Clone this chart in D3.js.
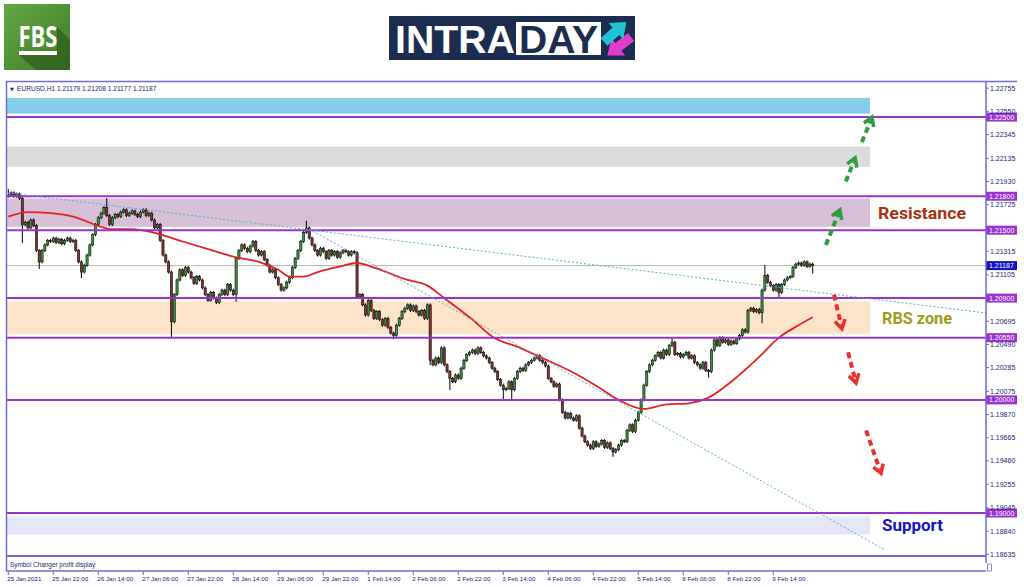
<!DOCTYPE html>
<html>
<head>
<meta charset="utf-8">
<script src="https://cdnjs.cloudflare.com/ajax/libs/d3/7.8.5/d3.min.js"></script>
<style>
    html, body { margin: 0; padding: 0; background: #fff; }
    svg { display: block; }
</style>
</head>
<body>
<svg id="chart" width="1024" height="587"></svg>
<script>
// EURUSD H1, closes, 16 bars per row (one row per time label)
let firstOpen = 1.2180;
let closes = [
    1.2181, 1.2183, 1.2180, 1.2182, 1.2178, 1.2155, 1.2157, 1.2152, 1.2159, 1.2154, 1.2132, 1.2122, 1.2132, 1.2137, 1.2141, 1.2140,
    1.2143, 1.2139, 1.2142, 1.2138, 1.2141, 1.2143, 1.2140, 1.2141, 1.2132, 1.2122, 1.2113, 1.2119, 1.2128, 1.2137, 1.2146, 1.2155,
    1.2161, 1.2165, 1.2170, 1.2163, 1.2155, 1.2161, 1.2164, 1.2162, 1.2166, 1.2168, 1.2163, 1.2165, 1.2167, 1.2164, 1.2162, 1.2166,
    1.2168, 1.2163, 1.2165, 1.2159, 1.2152, 1.2155, 1.2141, 1.2128, 1.2122, 1.2113, 1.2069, 1.2093, 1.2106, 1.2115, 1.2110, 1.2117,
    1.2113, 1.2108, 1.2103, 1.2109, 1.2106, 1.2099, 1.2093, 1.2088, 1.2095, 1.2090, 1.2086, 1.2093, 1.2097, 1.2093, 1.2102, 1.2097,
    1.2093, 1.2125, 1.2132, 1.2137, 1.2134, 1.2131, 1.2136, 1.2140, 1.2132, 1.2128, 1.2131, 1.2124, 1.2119, 1.2113, 1.2115, 1.2108,
    1.2102, 1.2097, 1.2099, 1.2104, 1.2108, 1.2117, 1.2125, 1.2132, 1.2140, 1.2148, 1.2152, 1.2143, 1.2137, 1.2132, 1.2128, 1.2134,
    1.2131, 1.2125, 1.2132, 1.2128, 1.2131, 1.2126, 1.2130, 1.2132, 1.2131, 1.2128, 1.2131, 1.2130, 1.2091, 1.2093, 1.2084, 1.2075,
    1.2088, 1.2079, 1.2072, 1.2078, 1.2071, 1.2066, 1.2072, 1.2064, 1.2059, 1.2057, 1.2066, 1.2072, 1.2078, 1.2081, 1.2084, 1.2079,
    1.2083, 1.2078, 1.2075, 1.2079, 1.2072, 1.2084, 1.2035, 1.2031, 1.2037, 1.2033, 1.2046, 1.2031, 1.2025, 1.2019, 1.2016, 1.2022,
    1.2019, 1.2028, 1.2035, 1.2040, 1.2042, 1.2044, 1.2041, 1.2046, 1.2042, 1.2039, 1.2037, 1.2033, 1.2028, 1.2025, 1.2018, 1.2013,
    1.2009, 1.2010, 1.2016, 1.2009, 1.2019, 1.2025, 1.2028, 1.2026, 1.2031, 1.2033, 1.2035, 1.2037, 1.2039, 1.2035, 1.2033, 1.2030,
    1.2019, 1.2016, 1.2012, 1.2014, 1.2000, 1.1989, 1.1984, 1.1988, 1.1984, 1.1982, 1.1986, 1.1975, 1.1968, 1.1963, 1.1960, 1.1957,
    1.1963, 1.1959, 1.1961, 1.1964, 1.1958, 1.1962, 1.1957, 1.1954, 1.1956, 1.1960, 1.1964, 1.1963, 1.1973, 1.1978, 1.1972, 1.1982,
    1.1989, 1.2000, 1.2013, 1.2025, 1.2031, 1.2035, 1.2039, 1.2042, 1.2037, 1.2044, 1.2040, 1.2048, 1.2051, 1.2040, 1.2041, 1.2038,
    1.2040, 1.2042, 1.2037, 1.2039, 1.2033, 1.2031, 1.2028, 1.2033, 1.2026, 1.2025, 1.2044, 1.2053, 1.2048, 1.2055, 1.2051, 1.2053,
    1.2049, 1.2052, 1.2050, 1.2054, 1.2057, 1.2062, 1.2060, 1.2079, 1.2081, 1.2078, 1.2080, 1.2077, 1.2097, 1.2110, 1.2104, 1.2101,
    1.2097, 1.2102, 1.2095, 1.2102, 1.2106, 1.2108, 1.2109, 1.2117, 1.2120, 1.2121, 1.2119, 1.2122, 1.2118, 1.2120, 1.21187
];
// long wicks that stand out: [bar, price]
let wickHighs = [[0, 1.2185], [35, 1.2177], [106, 1.2157], [236, 1.2054], [269, 1.2118]];
let wickLows = [[5, 1.2140], [11, 1.2117], [26, 1.2109], [58, 1.2057], [81, 1.2088], [137, 1.2055], [150, 1.2032],
    [157, 1.2010], [176, 1.2002], [179, 1.2002], [215, 1.1951], [249, 1.2021], [268, 1.2069], [274, 1.2091], [286, 1.2113]];

// red moving average: [bar, price]
let maPoints = [[0, 1.2162], [7, 1.2166], [15, 1.2165], [23, 1.2162], [33, 1.2153], [36, 1.2151], [44, 1.2151], [53, 1.2147],
    [62, 1.2140], [74, 1.2131], [81, 1.2126], [89, 1.2122], [96, 1.2115], [100, 1.2109], [105, 1.2109], [110, 1.2113],
    [118, 1.2118], [124, 1.2121], [130, 1.2117], [142, 1.2106], [149, 1.2101], [155, 1.2090], [165, 1.2071], [172, 1.2056],
    [182, 1.2046], [189, 1.2038], [201, 1.2024], [210, 1.2011], [217, 1.2000], [226, 1.1992], [234, 1.1996], [242, 1.1997],
    [249, 1.2002], [258, 1.2018], [267, 1.2038], [274, 1.2055], [281, 1.2066], [286, 1.2073]];

// levels and zones
let levels = [1.22500, 1.21800, 1.21500, 1.20900, 1.20550, 1.20000, 1.19000];
let lastPrice = 1.21187;
let zones = [[1.2267, 1.2253], [1.2224, 1.2206], [1.2178, 1.2153], [1.2087, 1.2058], [1.1897, 1.1881]];
let zoneEndBar = 306.4;
let zoneLabels = [[2, "Resistance"], [3, "RBS zone"], [4, "Support"]];
let trendLines = [[[0, 1.2183], [347, 1.2077]], [[107, 1.2151], [312, 1.1867]]];
let upArrows = [[[290.7, 1.2137], [295.7, 1.2168]], [[297.8, 1.2193], [301.1, 1.2214]], [[303.5, 1.2228], [307.1, 1.2250]]];
let downArrows = [[[293.6, 1.2093], [296.4, 1.2063]], [[298.6, 1.2042], [301.4, 1.2015]], [[305, 1.1973], [310.3, 1.1935]]];

// axis labels (the ones hidden under the level tags are left out)
let priceTicks = [1.22755, 1.22550, 1.22345, 1.22135, 1.21930, 1.21725, 1.21315, 1.21105, 1.20695,
    1.20490, 1.20285, 1.20075, 1.19870, 1.19665, 1.19460, 1.19255, 1.19045, 1.18840, 1.18635];
let timeLabels = ["25 Jan 2021", "25 Jan 22:00", "26 Jan 14:00", "27 Jan 06:00", "27 Jan 22:00", "28 Jan 14:00",
    "29 Jan 06:00", "29 Jan 22:00", "1 Feb 14:00", "2 Feb 06:00", "2 Feb 22:00", "3 Feb 14:00", "4 Feb 06:00",
    "4 Feb 22:00", "5 Feb 14:00", "8 Feb 06:00", "8 Feb 22:00", "9 Feb 14:00"];
let barsPerLabel = 16;
let headerText = "EURUSD,H1  1.21179 1.21208 1.21177 1.21187";

let svg = d3.select("#chart");
let frameColor = "#6c6cd4";
let axisText = "#24247a";
let levelColor = "#9933cc";
let zoneColors = ["#87ceeb", "#dcdcdc", "#d8bfd8", "#fde3c8", "#e6e6fa"];
let labelColors = ["#a8330f", "#9c9c18", "#1414c8"];

let plotLeft = 6, plotRight = 986, plotTop = 82, plotBottom = 556;
let x = d3.scaleLinear().domain([0, 348]).range([8.3, 8.3 + 348 * 2.8125]);
let y = d3.scaleLinear().domain([1.18620, 1.22810]).range([plotBottom, plotTop]);

/**
 * 页眉: FBS 和 INTRADAY 标志
 */
function drawHeader() {
    let defs = svg.append("defs");
    let grad = defs.append("linearGradient").attr("id", "fbsGrad")
        .attr("x1", 0).attr("y1", 0).attr("x2", 1).attr("y2", 1);
    grad.append("stop").attr("offset", "0%").attr("stop-color", "#64a844");
    grad.append("stop").attr("offset", "100%").attr("stop-color", "#3f7b28");

    let fbs = svg.append("g");
    fbs.append("rect").attr("x", 4).attr("y", 4).attr("width", 66).attr("height", 66).attr("fill", "url(#fbsGrad)");
    fbs.append("path").attr("d", "M57,27 L70,40 L70,70 L36,70 L19,55 L57,55 Z").attr("fill", "#2f5f1d").attr("opacity", 0.75);
    fbs.append("text").attr("x", 38).attr("y", 47).attr("text-anchor", "middle")
        .attr("font-family", "Open Sans").attr("font-weight", 700).attr("font-size", 29)
        .attr("textLength", 39).attr("lengthAdjust", "spacingAndGlyphs")
        .attr("fill", "#fff").text("FBS");
    fbs.append("rect").attr("x", 19).attr("y", 51).attr("width", 38).attr("height", 4).attr("fill", "#fff");

    let intra = svg.append("g");
    intra.append("rect").attr("x", 389).attr("y", 16).attr("width", 246).attr("height", 44).attr("fill", "#1c2d50");
    intra.append("text").attr("x", 395).attr("y", 53)
        .attr("font-family", "Liberation Sans").attr("font-weight", 700).attr("font-size", 38)
        .attr("textLength", 120).attr("lengthAdjust", "spacingAndGlyphs")
        .attr("fill", "#fff").text("INTRA");
    intra.append("rect").attr("x", 516).attr("y", 22).attr("width", 85).attr("height", 33).attr("fill", "#fff");
    intra.append("text").attr("x", 519).attr("y", 53)
        .attr("font-family", "Liberation Sans").attr("font-weight", 700).attr("font-size", 38)
        .attr("textLength", 79).attr("lengthAdjust", "spacingAndGlyphs")
        .attr("fill", "#1c2d50").text("DAY");
    let arrowShape = "0,-5 16,-5 16,-11 30,0 16,11 16,5 0,5";
    intra.append("polygon").attr("points", arrowShape).attr("fill", "#e23bd0")
        .attr("transform", "translate(631,37) rotate(142)");
    intra.append("polygon").attr("points", arrowShape).attr("fill", "#22c3d6")
        .attr("transform", "translate(604,42) rotate(-42)");
}

/**
 * 图表外框、价格轴与时间轴
 */
function drawFrame() {
    let frame = svg.append("g").attr("stroke", frameColor).attr("fill", "none");
    frame.append("line").attr("x1", plotLeft).attr("x2", 1017).attr("y1", 81.5).attr("y2", 81.5).attr("stroke-width", 1.5);
    frame.append("line").attr("x1", 6.5).attr("x2", 6.5).attr("y1", 81).attr("y2", 571).attr("stroke-width", 1.5);
    frame.append("line").attr("x1", plotRight).attr("x2", plotRight).attr("y1", 81).attr("y2", 563).attr("stroke-width", 1.5);
    frame.append("line").attr("x1", plotLeft).attr("x2", plotRight).attr("y1", 556).attr("y2", 556).attr("stroke-width", 2);
    frame.append("line").attr("x1", plotLeft).attr("x2", plotRight).attr("y1", 571).attr("y2", 571).attr("stroke-width", 1.5);
    frame.append("rect").attr("x", 987.5).attr("y", 564).attr("width", 4).attr("height", 7).attr("stroke-width", 0.8);

    svg.append("text").attr("x", 10).attr("y", 91)
        .attr("font-family", "DejaVu Sans").attr("font-size", 5).attr("fill", axisText).text("\u25BC");
    svg.append("text").attr("x", 17).attr("y", 91)
        .attr("font-family", "Liberation Sans").attr("font-size", 6.6).attr("fill", axisText).text(headerText);
    svg.append("text").attr("x", 10).attr("y", 567)
        .attr("font-family", "Liberation Sans").attr("font-size", 6.4).attr("fill", axisText)
        .text("Symbol Changer profit display");

    //价格刻度
    let ticks = svg.append("g");
    ticks.selectAll("line").data(priceTicks).enter().append("line")
        .attr("x1", plotRight).attr("x2", plotRight + 3)
        .attr("y1", d => y(d)).attr("y2", d => y(d))
        .attr("stroke", frameColor).attr("stroke-width", 1);
    ticks.selectAll("text").data(priceTicks).enter().append("text")
        .attr("x", plotRight + 4).attr("y", d => y(d) + 2.5)
        .attr("font-family", "Liberation Sans").attr("font-size", 7).attr("fill", axisText)
        .text(d => d.toFixed(5));

    //时间刻度
    let times = svg.append("g");
    times.selectAll("line").data(timeLabels).enter().append("line")
        .attr("x1", (d, i) => x(i * barsPerLabel)).attr("x2", (d, i) => x(i * barsPerLabel))
        .attr("y1", 571).attr("y2", 575)
        .attr("stroke", frameColor).attr("stroke-width", 1);
    times.selectAll("text").data(timeLabels).enter().append("text")
        .attr("x", (d, i) => x(i * barsPerLabel) - 1).attr("y", 581)
        .attr("font-family", "Liberation Sans").attr("font-size", 6.2).attr("fill", axisText)
        .text(d => d);
}

/**
 * 支撑阻力区域与水平线
 */
function drawZonesAndLevels() {
    svg.append("g").selectAll("rect").data(zones).enter().append("rect")
        .attr("x", plotLeft + 1).attr("width", x(zoneEndBar) - plotLeft - 1)
        .attr("y", d => y(d[0])).attr("height", d => y(d[1]) - y(d[0]))
        .attr("fill", (d, i) => zoneColors[i]);

    svg.append("line").attr("x1", plotLeft).attr("x2", plotRight)
        .attr("y1", y(lastPrice)).attr("y2", y(lastPrice))
        .attr("stroke", "#b4b4b4").attr("stroke-width", 1);

    svg.append("g").selectAll("text").data(zoneLabels).enter().append("text")
        .attr("x", (d, i) => i === 0 ? 878 : 882)
        .attr("y", d => y((zones[d[0]][0] + zones[d[0]][1]) / 2) + 6)
        .attr("font-family", "Roboto").attr("font-weight", 700).attr("font-size", 17)
        .attr("textLength", (d, i) => [88, 70, 61][i]).attr("lengthAdjust", "spacingAndGlyphs")
        .attr("fill", (d, i) => labelColors[i])
        .text(d => d[1]);
}

function drawLevelLines() {
    svg.append("g").selectAll("line").data(levels).enter().append("line")
        .attr("x1", plotLeft).attr("x2", plotRight)
        .attr("y1", d => y(d)).attr("y2", d => y(d))
        .attr("stroke", levelColor).attr("stroke-width", 2);

    //价格轴上的标签
    let tags = svg.append("g");
    let tagData = levels.map(v => [v, levelColor]).concat([[lastPrice, "#1212c4"]]);
    tags.selectAll("rect").data(tagData).enter().append("rect")
        .attr("x", plotRight).attr("width", 31)
        .attr("y", d => y(d[0]) - 4.5).attr("height", 9)
        .attr("fill", d => d[1]);
    tags.selectAll("text").data(tagData).enter().append("text")
        .attr("x", plotRight + 3).attr("y", d => y(d[0]) + 2.5)
        .attr("font-family", "Liberation Sans").attr("font-size", 7).attr("fill", "#fff")
        .text(d => d[0].toFixed(5));
}

/**
 * 蜡烛图及均线
 */
function drawCandles() {
    let candles = closes.map((c, i) => {
        let o = i === 0 ? firstOpen : closes[i - 1];
        return {i: i, o: o, c: c, h: Math.max(o, c), l: Math.min(o, c)};
    });
    wickHighs.forEach(d => { candles[d[0]].h = d[1]; });
    wickLows.forEach(d => { candles[d[0]].l = d[1]; });

    let g = svg.append("g");
    g.selectAll("line").data(candles).enter().append("line")
        .attr("x1", d => x(d.i)).attr("x2", d => x(d.i))
        .attr("y1", d => y(d.h) - 1.5).attr("y2", d => y(d.l) + 1.5)
        .attr("stroke", "#000").attr("stroke-width", 1);
    g.selectAll("rect").data(candles).enter().append("rect")
        .attr("x", d => x(d.i) - 1.1).attr("width", 2.2)
        .attr("y", d => y(Math.max(d.o, d.c)))
        .attr("height", d => Math.max(1, Math.abs(y(d.o) - y(d.c))))
        .attr("fill", d => d.c >= d.o ? "#36953a" : "#843030")
        .attr("stroke", "#111").attr("stroke-width", 0.6);

    let maLine = d3.line().x(d => x(d[0])).y(d => y(d[1])).curve(d3.curveMonotoneX);
    svg.append("path").datum(maPoints).attr("d", maLine)
        .attr("fill", "none").attr("stroke", "#e32222").attr("stroke-width", 1.8);
}

/**
 * 趋势线及方向箭头
 */
function drawAnnotations() {
    svg.append("g").selectAll("line").data(trendLines).enter().append("line")
        .attr("x1", d => x(d[0][0])).attr("y1", d => y(d[0][1]))
        .attr("x2", d => x(d[1][0])).attr("y2", d => y(d[1][1]))
        .attr("stroke", "#5aaed0").attr("stroke-width", 1).attr("stroke-dasharray", "2,2");

    function arrow(list, color) {
        list.forEach(a => {
            let x0 = x(a[0][0]), y0 = y(a[0][1]), x1 = x(a[1][0]), y1 = y(a[1][1]);
            let ang = Math.atan2(y1 - y0, x1 - x0);
            let g = svg.append("g").attr("stroke", color).attr("fill", "none");
            g.append("line").attr("x1", x0).attr("y1", y0)
                .attr("x2", x1 - 4 * Math.cos(ang)).attr("y2", y1 - 4 * Math.sin(ang))
                .attr("stroke-width", 4).attr("stroke-dasharray", "6,4");
            let p1 = [x1 - 10 * Math.cos(ang - 0.55), y1 - 10 * Math.sin(ang - 0.55)];
            let p2 = [x1 - 10 * Math.cos(ang + 0.55), y1 - 10 * Math.sin(ang + 0.55)];
            g.append("path").attr("d", "M" + p1 + "L" + [x1, y1] + "L" + p2)
                .attr("stroke-width", 3.5).attr("stroke-linejoin", "miter");
        });
    }
    arrow(upArrows, "#2f9e3a");
    arrow(downArrows, "#e8312c");
}

drawHeader();
drawZonesAndLevels();
drawCandles();
drawLevelLines();
drawAnnotations();
drawFrame();
</script>
</body>
</html>
